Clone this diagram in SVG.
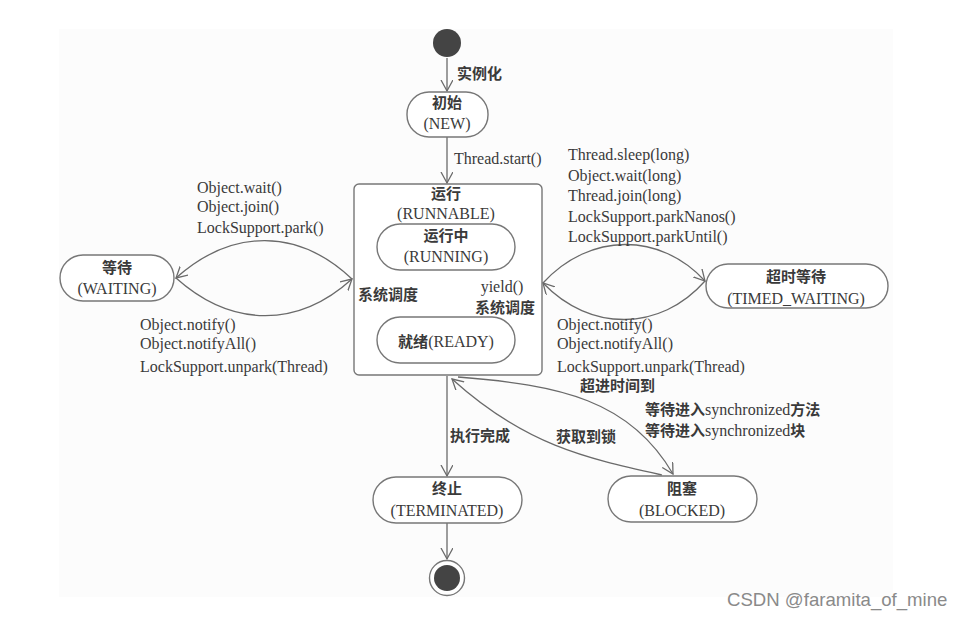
<svg xmlns="http://www.w3.org/2000/svg" width="964" height="619" viewBox="0 0 964 619">
<style>
.t{font-family:"Liberation Serif","Noto Sans CJK SC",serif;font-size:16px;fill:#3a3a3a}
.c{font-family:"Noto Sans CJK SC",sans-serif;font-size:15px;fill:#3a3a3a;font-weight:bold}
.cs{font-family:"Noto Sans CJK SC",sans-serif;font-size:15px;font-weight:bold}
.m{text-anchor:middle}
.node{fill:#ffffff;stroke:#777;stroke-width:1.4}
.edge{fill:none;stroke:#6a6a6a;stroke-width:1.3}
.wm{font-family:"Liberation Sans",Arial,sans-serif;font-size:18.6px;fill:#8a8a8a}
</style>
<defs>
<marker id="arr" markerUnits="userSpaceOnUse" markerWidth="14" markerHeight="14" refX="11" refY="6" orient="auto">
<path d="M0,0 L11,6 L0,12" fill="none" stroke="#6a6a6a" stroke-width="1.3"/>
</marker>
</defs>
<rect x="0" y="0" width="964" height="619" fill="#ffffff"/>
<rect x="59" y="29" width="834" height="568" fill="#fcfcfc"/>

<g id="connectors">
<path class="edge" d="M447,58 L447,91" marker-end="url(#arr)"/>
<path class="edge" d="M447,137 L447,183" marker-end="url(#arr)"/>
<path class="edge" d="M447,376 L447,476" marker-end="url(#arr)"/>
<path class="edge" d="M447,523 L447,559" marker-end="url(#arr)"/>
<path class="edge" d="M352,279 C298,228 232,228 176,278" marker-end="url(#arr)"/>
<path class="edge" d="M176,278 C232,328 298,328 352,279" marker-end="url(#arr)"/>
<path class="edge" d="M543,283 C590,232 660,232 705,281" marker-end="url(#arr)"/>
<path class="edge" d="M705,281 C660,332 590,332 543,283" marker-end="url(#arr)"/>
<path class="edge" d="M449,316 C418,306 418,281 443,272" marker-end="url(#arr)"/>
<path class="edge" d="M447,272 C476,281 476,306 452,316" marker-end="url(#arr)"/>
<path class="edge" d="M458,377 C560,385 630,400 673,474" marker-end="url(#arr)"/>
<path class="edge" d="M662,475 C585,458 525,445 452,379" marker-end="url(#arr)"/>
</g>

<g id="start"><circle cx="447" cy="43" r="14" fill="#444"/></g>
<g id="end"><circle cx="447" cy="578" r="17.5" fill="#fff" stroke="#777" stroke-width="1.4"/><circle cx="447" cy="578" r="13" fill="#444"/></g>

<g id="new"><rect class="node" x="407" y="92" width="81" height="45" rx="22"/>
<text class="c m" x="447" y="108">初始</text><text class="t m" x="447" y="129">(NEW)</text></g>

<g id="runnable"><rect class="node" x="354" y="184" width="188" height="191" rx="5"/>
<text class="c m" x="446" y="199">运行</text><text class="t m" x="446" y="219">(RUNNABLE)</text></g>

<g id="running"><rect class="node" x="377" y="224" width="138" height="46" rx="23"/>
<text class="c m" x="446" y="241">运行中</text><text class="t m" x="446" y="262">(RUNNING)</text></g>

<g id="ready"><rect class="node" x="377" y="317" width="138" height="46" rx="23"/>
<text class="t m" x="446" y="347"><tspan class="cs">就绪</tspan>(READY)</text></g>

<g id="waiting"><rect class="node" x="60" y="255" width="114" height="46" rx="23"/>
<text class="c m" x="117" y="273">等待</text><text class="t m" x="117" y="294">(WAITING)</text></g>

<g id="timed_waiting"><rect class="node" x="706" y="264" width="182" height="44" rx="22"/>
<text class="c m" x="796" y="282">超时等待</text><text class="t m" x="796" y="304">(TIMED_WAITING)</text></g>

<g id="terminated"><rect class="node" x="373" y="477" width="149" height="46" rx="23"/>
<text class="c m" x="447" y="494">终止</text><text class="t m" x="447" y="516">(TERMINATED)</text></g>

<g id="blocked"><rect class="node" x="608" y="476" width="149" height="46" rx="23"/>
<text class="c m" x="682" y="494">阻塞</text><text class="t m" x="682" y="516">(BLOCKED)</text></g>

<g id="labels">
<text class="c" x="457" y="79">实例化</text>
<text class="t" x="454" y="164">Thread.start()</text>
<text class="t" x="197" y="193">Object.wait()</text>
<text class="t" x="197" y="212">Object.join()</text>
<text class="t" x="197" y="233">LockSupport.park()</text>
<text class="t" x="140" y="330">Object.notify()</text>
<text class="t" x="140" y="349">Object.notifyAll()</text>
<text class="t" x="140" y="372">LockSupport.unpark(Thread)</text>
<text class="t" x="568" y="160">Thread.sleep(long)</text>
<text class="t" x="568" y="181">Object.wait(long)</text>
<text class="t" x="568" y="201">Thread.join(long)</text>
<text class="t" x="568" y="222">LockSupport.parkNanos()</text>
<text class="t" x="568" y="242">LockSupport.parkUntil()</text>
<text class="t" x="557" y="330">Object.notify()</text>
<text class="t" x="557" y="349">Object.notifyAll()</text>
<text class="t" x="557" y="372">LockSupport.unpark(Thread)</text>
<text class="c" x="358" y="300">系统调度</text>
<text class="t m" x="502" y="292">yield()</text>
<text class="c m" x="505" y="313">系统调度</text>
<text class="c" x="580" y="391">超进时间到</text>
<text class="t" x="645" y="415"><tspan class="cs">等待进入</tspan>synchronized<tspan class="cs">方法</tspan></text>
<text class="t" x="645" y="436"><tspan class="cs">等待进入</tspan>synchronized<tspan class="cs">块</tspan></text>
<text class="c" x="450" y="441">执行完成</text>
<text class="c" x="556" y="442">获取到锁</text>
</g>
<text class="wm" x="727" y="606">CSDN @faramita_of_mine</text>
</svg>
